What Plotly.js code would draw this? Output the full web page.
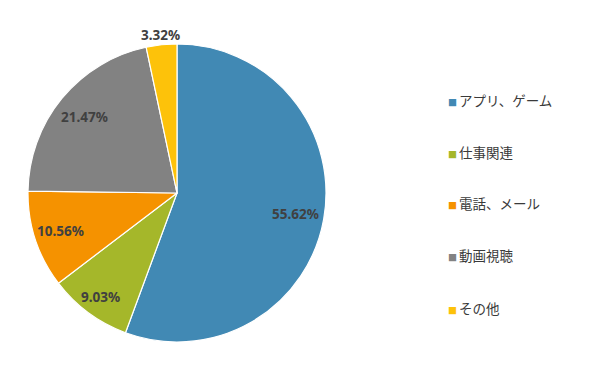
<!DOCTYPE html>
<html><head><meta charset="utf-8">
<script src="https://cdn.plot.ly/plotly-3.0.1.min.js"></script>
<style>html,body{margin:0;padding:0;background:#fff}#chart{width:590px;height:379px}</style>
</head><body><div id="chart"></div>
<script>
const categories = ['アプリ、ゲーム', '仕事関連', '電話、メール', '動画視聴', 'その他'];
const shares = [55.62, 9.03, 10.56, 21.47, 3.32];
const colors = ['#4189b4', '#a5b72a', '#f59200', '#828282', '#fdc20a'];

// label placement (fraction of radius from the centre) for each slice label
const labelRadius = [0.81, 0.865, 0.825, 0.805, 1.067];
const legendPy = [100, 152, 203, 255, 308];

const trace = {
  type: 'pie',
  labels: categories,
  values: shares,
  sort: false,
  direction: 'clockwise',
  rotation: 0,
  marker: {colors: colors, line: {color: '#ffffff', width: 1.2}},
  textinfo: 'none',
  showlegend: false,
  hoverinfo: 'label+percent'
};

const M = {l: 28, r: 264, t: 44, b: 37};
const total = shares.reduce((a, b) => a + b, 0);
let cum = 0;
const sliceLabels = shares.map((v, i) => {
  const mid = (cum + v / 2) / total * 2 * Math.PI;
  cum += v;
  return {
    xref: 'paper', yref: 'paper',
    x: 0.5 + 0.5 * labelRadius[i] * Math.sin(mid),
    y: 0.5 + 0.5 * labelRadius[i] * Math.cos(mid),
    xanchor: 'center', yanchor: 'middle',
    showarrow: false,
    text: v.toFixed(2) + '%',
    font: {family: 'Noto Sans, sans-serif', size: 13.5, color: '#404040', weight: 'bold'}
  };
});

const plotH = 379 - M.t - M.b, plotW = 590 - M.l - M.r;
const legendItems = categories.map((c, i) => ({
  xref: 'paper', yref: 'paper',
  x: (446 - M.l) / plotW, xanchor: 'left',
  y: (379 - M.b - legendPy[i]) / plotH, yanchor: 'middle',
  showarrow: false,
  align: 'left',
  text: '<span style="color:' + colors[i] + ';font-size:9px">■ </span>' + c,
  font: {family: 'Noto Sans CJK JP, sans-serif', size: 13.5, color: '#3a3a3a'}
}));

const layout = {
  width: 590, height: 379,
  margin: M,
  paper_bgcolor: '#ffffff',
  plot_bgcolor: '#ffffff',
  annotations: sliceLabels.concat(legendItems),
  showlegend: false
};
Plotly.newPlot('chart', [trace], layout, {displayModeBar: false, staticPlot: true});
</script>
</body></html>
